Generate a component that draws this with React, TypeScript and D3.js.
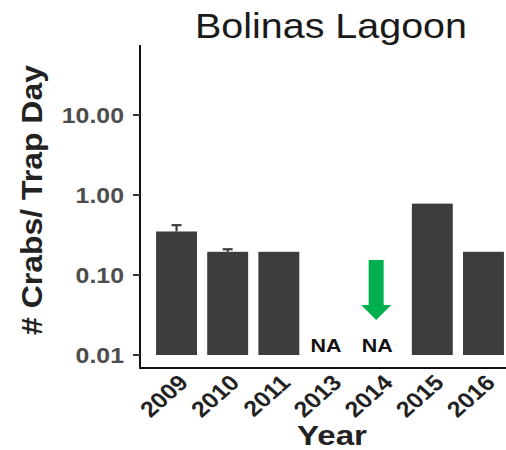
import React from "react";
import * as d3 from "d3";

const years = ["2009", "2010", "2011", "2013", "2014", "2015", "2016"];
const means: (number | null)[] = [0.35, 0.195, 0.195, null, null, 0.78, 0.195];
const upperErr: (number | null)[] = [0.42, 0.21, null, null, null, null, null];
const yTicks = [0.01, 0.1, 1, 10];
const yTickLabels = ["0.01", "0.10", "1.00", "10.00"];
const arrowYear = "2014";

const W = 506;
const H = 450;
const FONT = "'Liberation Sans', Arial, Helvetica, sans-serif";
const SX = 1.13;

export default function App() {
  const x = d3
    .scaleBand<string>()
    .domain(years)
    .range([140, 520])
    .paddingInner(0.2)
    .paddingOuter(0.314);
  const y = d3.scaleLog().domain([0.00688, 75]).range([368, 45]);
  const base = 0.01;
  const bw = x.bandwidth();

  const ax = (x(arrowYear) as number) + bw / 2 - 5;
  const arrowTop = 260;
  const arrowShaftEnd = 305;
  const arrowTip = 320;

  return (
    <svg
      width={W}
      height={H}
      style={{ position: "absolute", left: 0, top: 0, background: "#fff" }}
      fontFamily={FONT}
    >
      <rect x={0} y={0} width={W} height={H} fill="#fff" />
      {/* title */}
      <text
        x={331}
        y={38}
        textAnchor="middle"
        fontSize={35}
        fill="#1a1a1a"
        textLength={272}
        lengthAdjust="spacingAndGlyphs"
      >
        Bolinas Lagoon
      </text>

      {/* bars */}
      {years.map((yr, i) => {
        const v = means[i];
        if (v == null) return null;
        const x0 = x(yr) as number;
        return (
          <rect
            key={yr}
            x={x0}
            y={y(v)}
            width={bw}
            height={y(base) - y(v)}
            fill="#3d3d3d"
          />
        );
      })}

      {/* error bars */}
      {years.map((yr, i) => {
        const v = means[i];
        const u = upperErr[i];
        if (v == null || u == null) return null;
        const cx = (x(yr) as number) + bw / 2;
        return (
          <g key={"e" + yr} stroke="#3d3d3d" strokeWidth={2.2}>
            <line x1={cx} x2={cx} y1={y(v)} y2={y(u)} />
            <line x1={cx - 5} x2={cx + 5} y1={y(u)} y2={y(u)} />
          </g>
        );
      })}

      {/* NA labels */}
      {years.map((yr, i) => {
        if (means[i] != null) return null;
        const cx = (x(yr) as number) + bw / 2 - 4;
        return (
          <text
            key={"na" + yr}
            transform={`translate(${cx},352) scale(${SX},1)`}
            textAnchor="middle"
            fontSize={19}
            fontWeight="bold"
            fill="#111"
          >
            NA
          </text>
        );
      })}

      {/* green arrow */}
      <path
        d={`M${ax - 7.5},${arrowTop} L${ax + 7.5},${arrowTop} L${ax + 7.5},${arrowShaftEnd} L${ax + 15},${arrowShaftEnd} L${ax},${arrowTip} L${ax - 15},${arrowShaftEnd} L${ax - 7.5},${arrowShaftEnd} Z`}
        fill="#00b050"
      />

      {/* axes */}
      <line x1={140} x2={140} y1={45} y2={369} stroke="#111" strokeWidth={2} />
      <line x1={139} x2={W} y1={368} y2={368} stroke="#111" strokeWidth={2} />

      {/* y ticks */}
      {yTicks.map((t, i) => (
        <g key={"yt" + t}>
          <line x1={133} x2={140} y1={y(t)} y2={y(t)} stroke="#333" strokeWidth={2} />
          <text
            transform={`translate(124,${y(t)}) scale(${SX},1)`}
            dy="0.36em"
            textAnchor="end"
            fontSize={22}
            fontWeight="bold"
            fill="#4d4d4d"
          >
            {yTickLabels[i]}
          </text>
        </g>
      ))}

      {/* x tick labels */}
      {years.map((yr) => {
        const cx = (x(yr) as number) + bw / 2;
        return (
          <text
            key={"xt" + yr}
            transform={`translate(${cx + 13},384) scale(${SX},1) rotate(-45)`}
            textAnchor="end"
            fontSize={22}
            fontWeight="bold"
            fill="#222"
          >
            {yr}
          </text>
        );
      })}

      {/* axis titles */}
      <text
        x={332}
        y={445}
        textAnchor="middle"
        fontSize={28}
        fontWeight="bold"
        fill="#222"
        textLength={70}
        lengthAdjust="spacingAndGlyphs"
      >
        Year
      </text>
      <text
        transform={`translate(42,200) rotate(-90)`}
        textAnchor="middle"
        fontSize={29}
        fontWeight="bold"
        fill="#222"
        textLength={270}
        lengthAdjust="spacingAndGlyphs"
      >
        # Crabs/ Trap Day
      </text>
    </svg>
  );
}
